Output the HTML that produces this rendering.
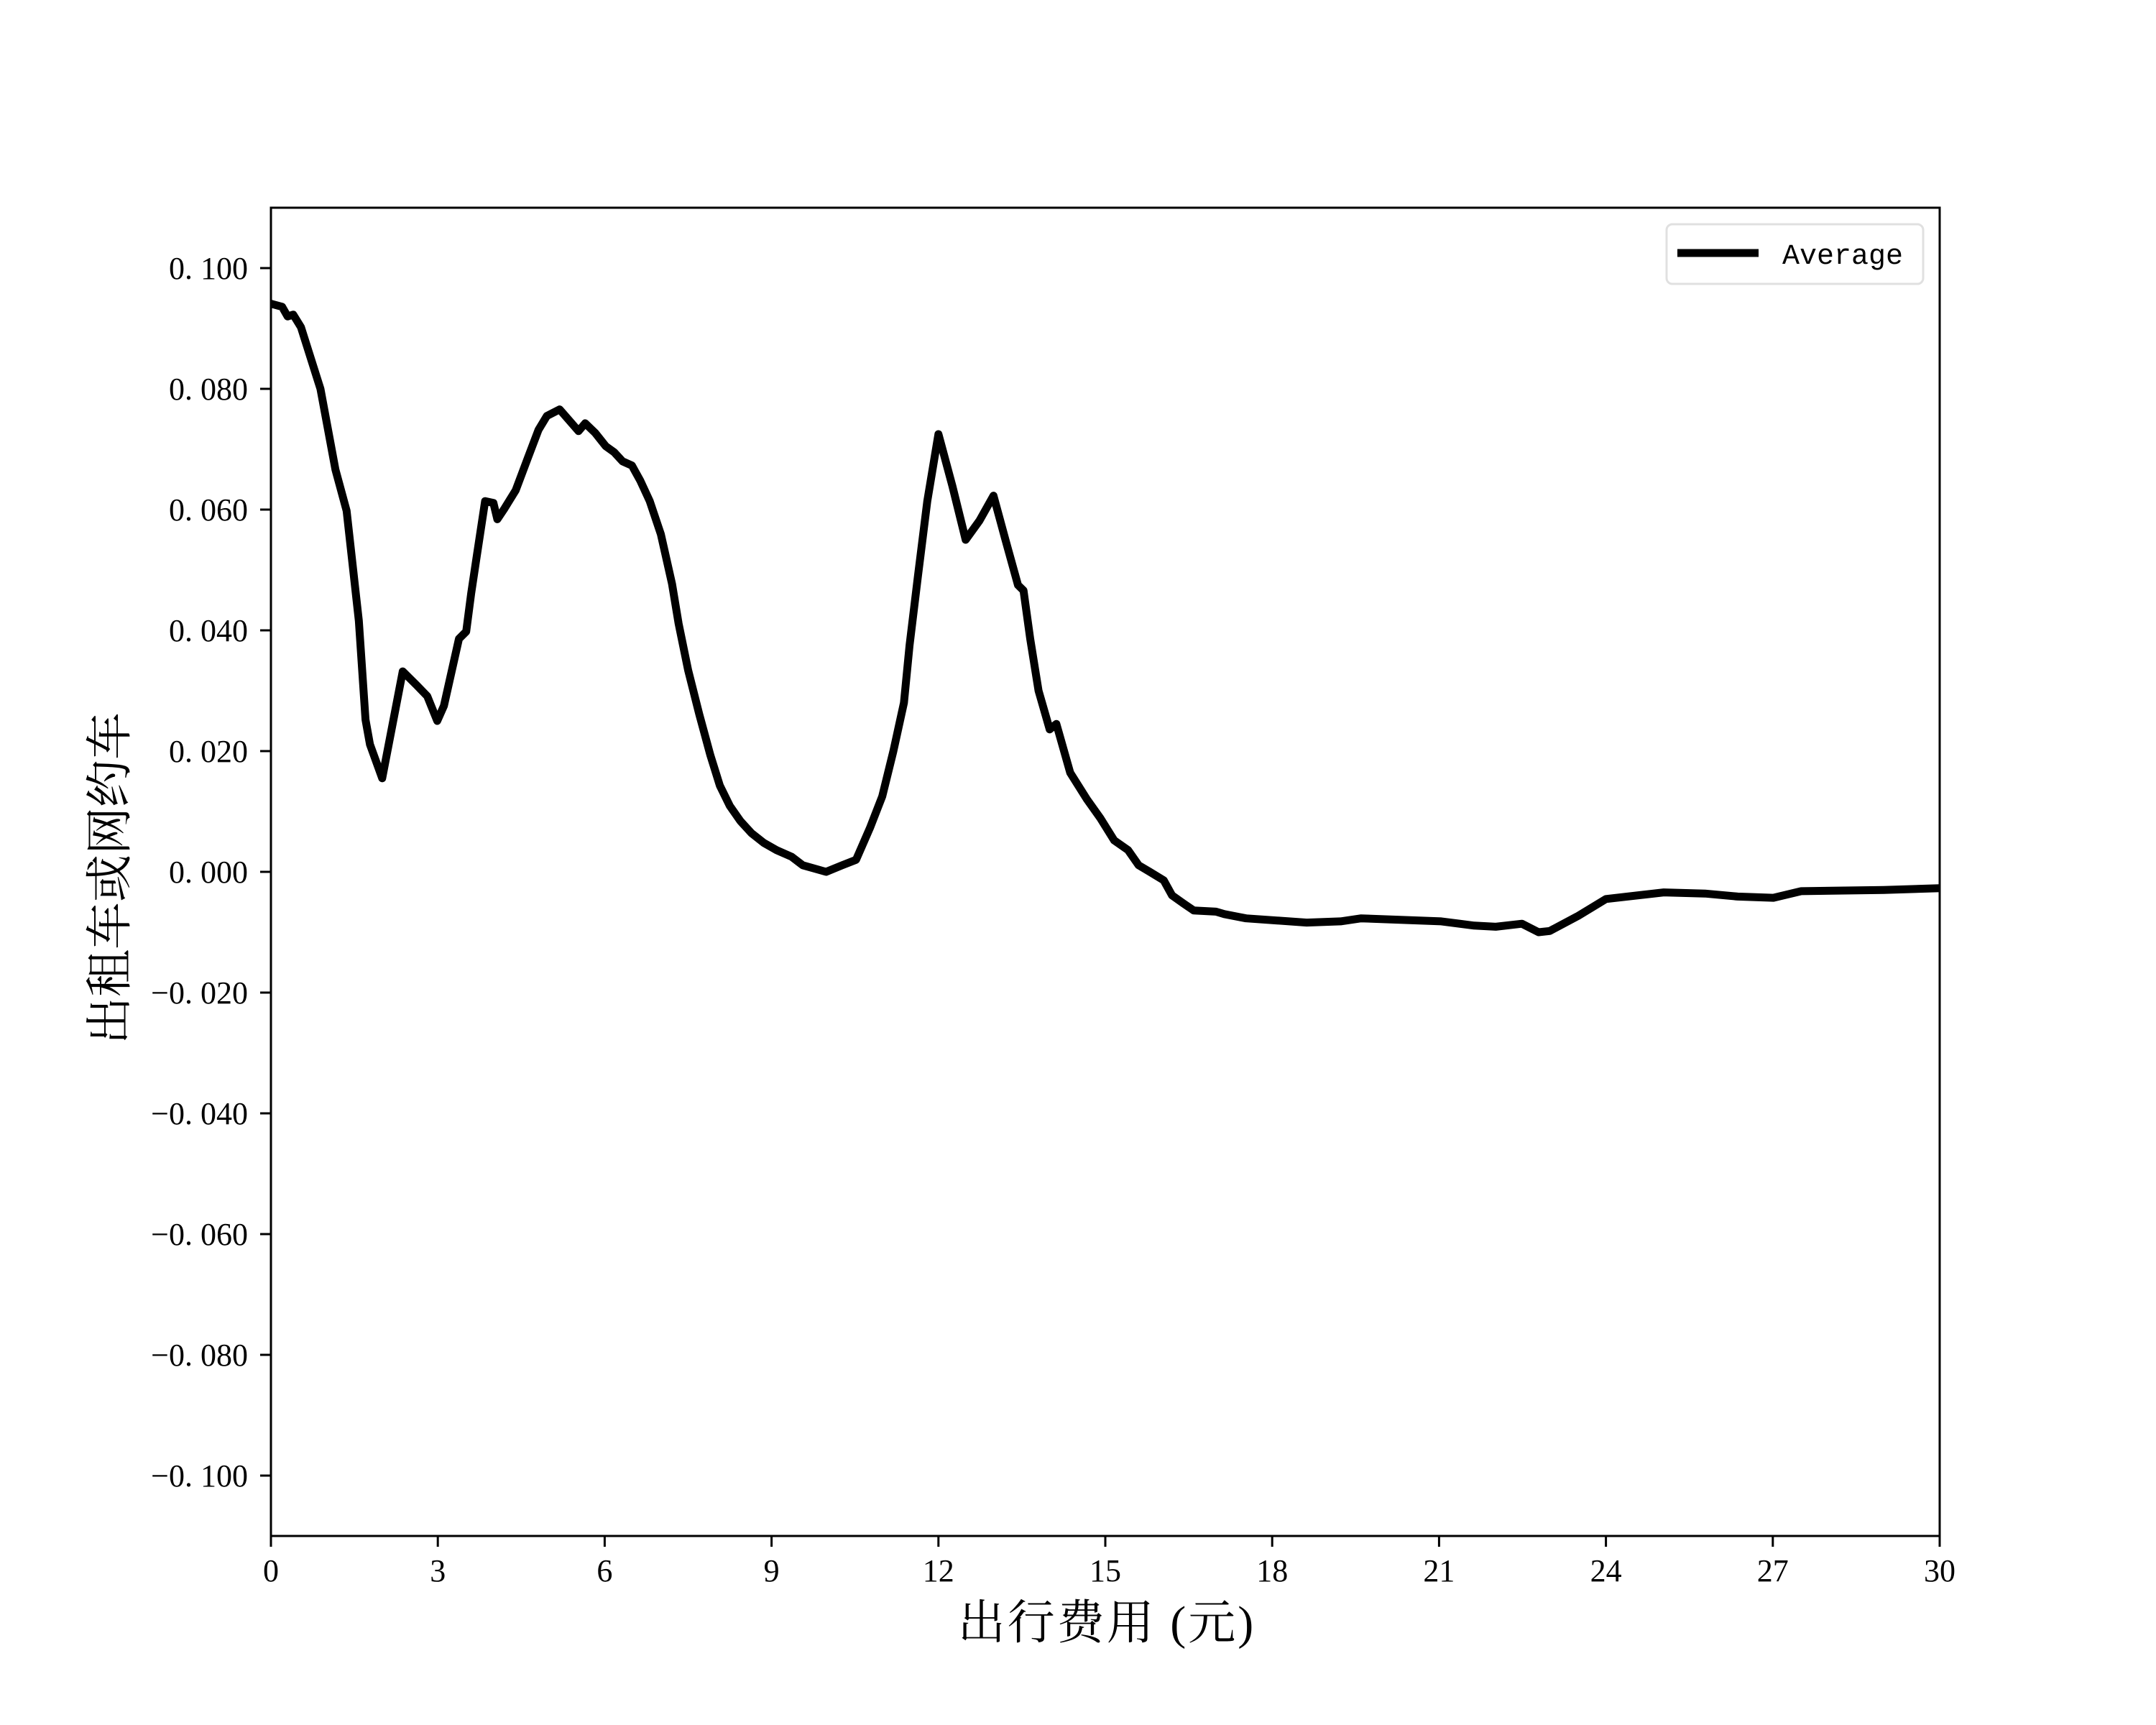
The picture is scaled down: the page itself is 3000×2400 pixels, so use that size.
<!DOCTYPE html>
<html><head><meta charset="utf-8"><style>
html,body{margin:0;padding:0;background:#fff;}
svg{display:block;}
text{font-family:"Liberation Serif","Noto Serif CJK SC",serif;fill:#000;}
</style></head><body>
<svg id="chart" width="3000" height="2400" viewBox="0 0 3000 2400" xmlns="http://www.w3.org/2000/svg">
<rect width="3000" height="2400" fill="#fff"/>
<path id="series" fill="none" stroke="#000" stroke-width="11" stroke-linejoin="round" stroke-linecap="butt"/>
<rect x="377" y="289" width="2322" height="1848" fill="none" stroke="#000" stroke-width="3"/>
<g id="xticks"></g>
<g id="yticks"></g>
<text x="1540" y="2280" font-size="66" text-anchor="middle" letter-spacing="3">出行费用 (元)</text>
<text x="0" y="0" font-size="66" text-anchor="middle" transform="translate(175,1222) rotate(-90)">出租车或网约车</text>
<g>
<rect x="2319" y="312" width="357" height="83" rx="8" fill="#fff" stroke="#e0e0e0" stroke-width="3"/>
<line x1="2334" y1="352" x2="2447" y2="352" stroke="#000" stroke-width="11"/>
<text x="2480" y="367" font-size="40" style="font-family:'Liberation Mono',monospace">Average</text>
</g>
</svg>
<script>
const xs = [0,0.2,0.3,0.4,0.54,0.89,1.16,1.36,1.58,1.7,1.78,2.0,2.37,2.62,2.81,2.99,3.11,3.38,3.51,3.6,3.7,3.85,4.0,4.07,4.2,4.4,4.62,4.81,4.96,5.19,5.36,5.53,5.65,5.83,6.02,6.17,6.32,6.49,6.64,6.81,7.01,7.21,7.33,7.5,7.7,7.9,8.07,8.25,8.44,8.64,8.86,9.09,9.36,9.56,9.98,10.27,10.52,10.77,10.99,11.19,11.38,11.48,11.63,11.8,12.0,12.25,12.49,12.74,12.99,13.21,13.43,13.53,13.65,13.8,14.0,14.12,14.37,14.67,14.91,15.16,15.41,15.6,15.8,16.05,16.2,16.4,16.59,16.99,17.14,17.53,18.62,19.23,19.6,21.04,21.63,22.02,22.49,22.79,22.99,23.5,24.0,25.04,25.78,26.37,27.01,27.51,28.99,30];
const ys = [0.0941,0.0936,0.092,0.0923,0.0902,0.080,0.0666,0.0598,0.0416,0.0252,0.0211,0.0155,0.0332,0.0309,0.0291,0.025,0.0275,0.0386,0.0398,0.0461,0.0523,0.0614,0.0611,0.0584,0.0602,0.0632,0.0686,0.0732,0.0755,0.0766,0.0748,0.073,0.0743,0.0727,0.0705,0.0695,0.068,0.0673,0.0648,0.0614,0.0559,0.0477,0.0411,0.0334,0.0261,0.0193,0.0143,0.0109,0.0084,0.0064,0.0048,0.0036,0.0025,0.0011,0.0,0.0011,0.002,0.0073,0.0125,0.02,0.028,0.0375,0.0489,0.0614,0.0725,0.0639,0.055,0.0582,0.0623,0.0548,0.0475,0.0466,0.0386,0.03,0.0236,0.0245,0.0164,0.012,0.0089,0.0052,0.0036,0.0011,0.0,-0.0014,-0.0039,-0.0052,-0.0064,-0.0066,-0.007,-0.0077,-0.0084,-0.0082,-0.0077,-0.0082,-0.0089,-0.0091,-0.0086,-0.01,-0.0098,-0.0073,-0.0045,-0.0034,-0.0036,-0.0041,-0.0043,-0.0032,-0.003,-0.0027];
const xTicks = [0,3,6,9,12,15,18,21,24,27,30];
const yTicks = [0.1,0.08,0.06,0.04,0.02,0,-0.02,-0.04,-0.06,-0.08,-0.1];
const yTickLabels = ["0. 100","0. 080","0. 060","0. 040","0. 020","0. 000","−0. 020","−0. 040","−0. 060","−0. 080","−0. 100"];

const X0=377, X1=2699, Y0=2137, Y1=289;
const XMIN=0, XMAX=30, YMIN=-0.11, YMAX=0.11;
function sx(v){return X0+(v-XMIN)/(XMAX-XMIN)*(X1-X0);}
function sy(v){return Y0-(v-YMIN)/(YMAX-YMIN)*(Y0-Y1);}
const NS="http://www.w3.org/2000/svg";

let d="";
xs.forEach((x,i)=>{d+=(i?"L":"M")+sx(x).toFixed(1)+","+sy(ys[i]).toFixed(1);});
document.getElementById("series").setAttribute("d",d);

const xg=document.getElementById("xticks");
xTicks.forEach(t=>{
  const l=document.createElementNS(NS,"line");
  
  
  l.setAttribute("x1",sx(t));l.setAttribute("x2",sx(t));
  l.setAttribute("y1",Y0);l.setAttribute("y2",Y0+15);
  l.setAttribute("stroke","#000");l.setAttribute("stroke-width","3");
  xg.appendChild(l);
  const tx=document.createElementNS(NS,"text");
  
  
  tx.setAttribute("x",sx(t));tx.setAttribute("y",Y0+63);
  tx.setAttribute("font-size","44");tx.setAttribute("text-anchor","middle");
  tx.textContent=String(t);
  xg.appendChild(tx);
});
const yg=document.getElementById("yticks");
yTicks.forEach((t,i)=>{
  const l=document.createElementNS(NS,"line");
  
  
  l.setAttribute("x1",X0-15);l.setAttribute("x2",X0);
  l.setAttribute("y1",sy(t));l.setAttribute("y2",sy(t));
  l.setAttribute("stroke","#000");l.setAttribute("stroke-width","3");
  yg.appendChild(l);
  const tx=document.createElementNS(NS,"text");
  
  
  tx.setAttribute("x",X0-32);tx.setAttribute("y",sy(t)+15);
  tx.setAttribute("font-size","44");tx.setAttribute("text-anchor","end");
  tx.setAttribute("xml:space","preserve");
  tx.textContent=yTickLabels[i];
  yg.appendChild(tx);
});
</script>
</body></html>
